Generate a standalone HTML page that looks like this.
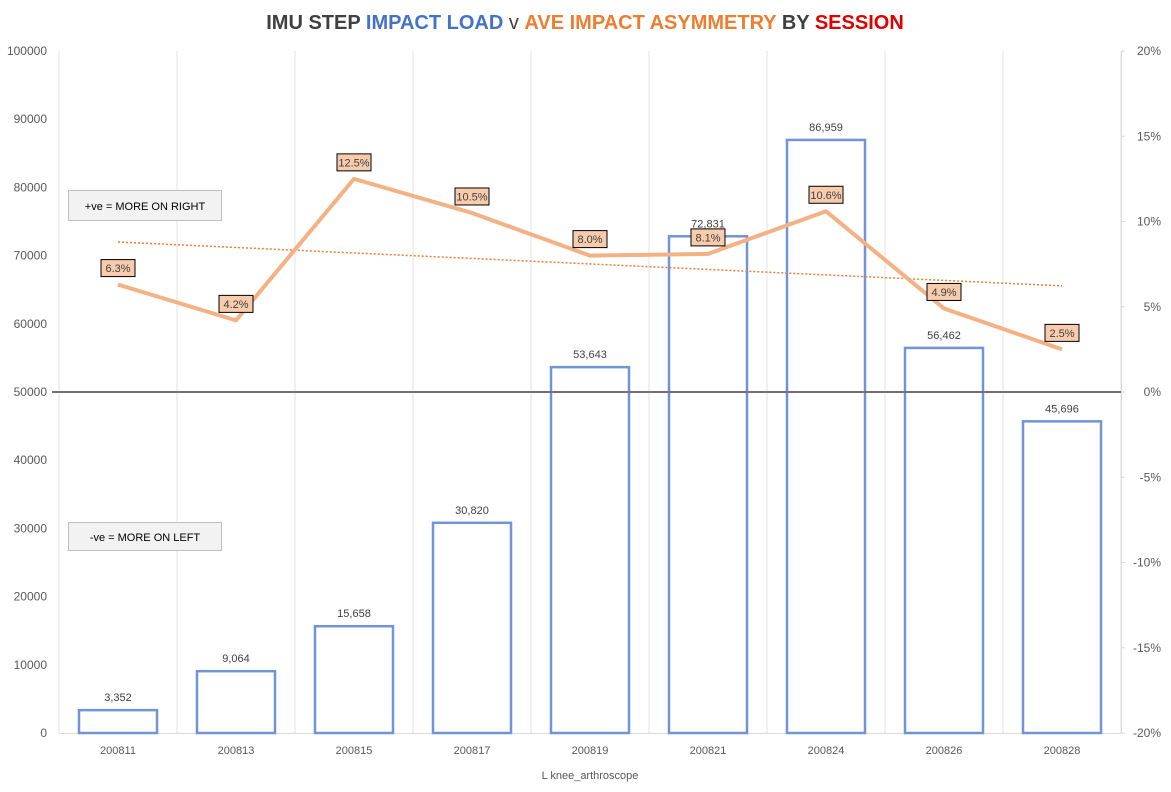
<!DOCTYPE html>
<html><head><meta charset="utf-8"><style>
body{margin:0;background:#fff;}
svg{display:block;font-family:"Liberation Sans",Calibri,sans-serif;}
</style></head><body>
<svg id="chart" width="1171" height="792" viewBox="0 0 1171 792">
<rect x="0" y="0" width="1171" height="792" fill="#fff"/>
<text x="585" y="29" text-anchor="middle" font-size="20" font-weight="bold"><tspan fill="#404040">IMU STEP </tspan><tspan fill="#4472c4">IMPACT LOAD</tspan><tspan fill="#404040" font-weight="normal"> v </tspan><tspan fill="#ed7d31">AVE IMPACT ASYMMETRY</tspan><tspan fill="#404040"> BY </tspan><tspan fill="#e00000">SESSION</tspan></text>
<g id="grid"></g><g id="axes"></g><g id="bars"></g><g id="line"></g>
<g><rect x="68.5" y="190.5" width="153" height="30" fill="#f2f2f2" stroke="#bfbfbf"/><text x="145" y="210" text-anchor="middle" font-size="11" fill="#000">+ve = MORE ON RIGHT</text></g>
<g><rect x="68.5" y="522.5" width="153" height="28" fill="#f2f2f2" stroke="#bfbfbf"/><text x="145" y="541" text-anchor="middle" font-size="11" fill="#000">-ve = MORE ON LEFT</text></g>
<text x="590" y="779" text-anchor="middle" font-size="11" fill="#595959">L knee_arthroscope</text>
</svg>
<script>
const categories=["200811","200813","200815","200817","200819","200821","200824","200826","200828"];
const loads=[3352,9064,15658,30820,53643,72831,86959,56462,45696];
const asym=[6.3,4.2,12.5,10.5,8.0,8.1,10.6,4.9,2.5];
const leftTicks=[0,10000,20000,30000,40000,50000,60000,70000,80000,90000,100000];
const rightTicks=[-20,-15,-10,-5,0,5,10,15,20];
const L=59,R=1121,T=51,B=733;
const cw=(R-L)/categories.length;
const xc=i=>L+cw*(i+0.5);
const yL=v=>B-(v/100000)*(B-T);
const yR=p=>B-((p+20)/40)*(B-T);
const NS="http://www.w3.org/2000/svg";
function mk(tag,parent,attrs){const e=document.createElementNS(NS,tag);for(const k in attrs)e.setAttribute(k,attrs[k]);document.getElementById(parent).appendChild(e);return e;}
for(let i=0;i<=categories.length;i++){const g=mk('line','grid',{x1:L+cw*i,x2:L+cw*i,y1:T,y2:B,stroke:'#e3e3e3','stroke-width':1});

}
mk('line','axes',{x1:L,x2:R,y1:B+0.5,y2:B+0.5,stroke:'#d9d9d9'});
mk('line','axes',{x1:R+0.5,x2:R+0.5,y1:T,y2:B,stroke:'#d9d9d9'});
leftTicks.forEach(v=>{const t=mk('text','axes',{x:47,y:yL(v)+4,'text-anchor':'end','font-size':12,fill:'#595959'});t.textContent=v;

});
rightTicks.forEach(p=>{mk('line','axes',{x1:R,x2:R+4,y1:yR(p),y2:yR(p),stroke:'#d9d9d9'});const t=mk('text','axes',{x:1161,y:yR(p)+4,'text-anchor':'end','font-size':12,fill:'#595959'});t.textContent=p+'%';

});
categories.forEach((c,i)=>{const t=mk('text','axes',{x:xc(i),y:754,'text-anchor':'middle','font-size':11,fill:'#595959'});t.textContent=c;

});
loads.forEach((v,i)=>{const r=mk('rect','bars',{x:xc(i)-39,y:yL(v),width:78,height:B-yL(v),fill:'none',stroke:'#7094d4','stroke-width':2.5});


const t=mk('text','bars',{x:xc(i),y:yL(v)-9,'text-anchor':'middle','font-size':11,fill:'#404040'});t.textContent=v.toLocaleString('en-US');

});
const z=mk('line','line',{x1:52,x2:R,y1:yR(0),y2:yR(0),stroke:'#767171','stroke-width':2});


const n=asym.length,mx=(n-1)/2,my=asym.reduce((a,b)=>a+b,0)/n;let sxy=0,sxx=0;asym.forEach((v,i)=>{sxy+=(i-mx)*(v-my);sxx+=(i-mx)*(i-mx);});const sl=sxy/sxx;
const tr=mk('line','line',{x1:xc(0),y1:yR(my-sl*mx),x2:xc(n-1),y2:yR(my+sl*mx),stroke:'#ed7d31','stroke-width':1.5,'stroke-dasharray':'2,2'});


const pl=mk('polyline','line',{points:asym.map((p,i)=>xc(i)+','+yR(p)).join(' '),fill:'none',stroke:'#f4b183','stroke-width':4,'stroke-linejoin':'round'});


asym.forEach((p,i)=>{const y=yR(p);const bx=mk('rect','line',{x:xc(i)-17,y:y-25,width:34,height:17,fill:'#f8cbad',stroke:'#000','stroke-width':1});


const t=mk('text','line',{x:xc(i),y:y-12.5,'text-anchor':'middle','font-size':11,fill:'#404040'});t.textContent=p.toFixed(1)+'%';

});
</script>
</body></html>
